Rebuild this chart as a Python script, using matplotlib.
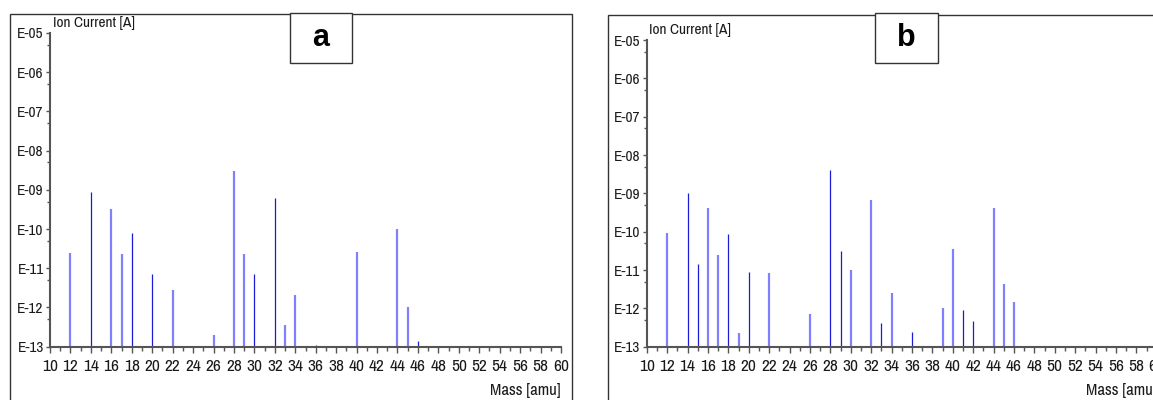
import matplotlib
matplotlib.use("Agg")
import matplotlib.pyplot as plt
import numpy as np
from matplotlib.patches import Rectangle
from matplotlib.ticker import FixedLocator, FuncFormatter, MultipleLocator
import matplotlib.transforms as mtransforms
from matplotlib import font_manager

# pick a narrow font if one is available
narrow_family = None
narrow_stretch = 'normal'
for f in font_manager.fontManager.ttflist:
    if 'Narrow' in f.name or 'Condensed' in f.name:
        narrow_family = f.name
        break
if narrow_family is None:
    narrow_family = 'DejaVu Sans'
    narrow_stretch = 'condensed'

plt.rcParams['font.family'] = [narrow_family, 'DejaVu Sans']
plt.rcParams['font.stretch'] = narrow_stretch
plt.rcParams['font.weight'] = 'bold'

# ---- data (log10 of ion current) ----
mass_a = [12, 14, 16, 17, 18, 20, 22, 26, 28, 29, 30, 32, 33, 34, 36, 40, 44, 45, 46]
logI_a = [-10.61, -9.05, -9.49, -10.64, -10.10, -11.15, -11.56, -12.71, -8.51, -10.64,
          -11.15, -9.22, -12.44, -11.69, -12.96, -10.58, -10.0, -12.0, -12.86]
tone_a = ['l', 'd', 'l', 'l', 'd', 'd', 'l', 'l', 'l', 'l', 'd', 'd', 'l', 'l', 'd', 'l', 'l', 'l', 'd']

mass_b = [12, 14, 15, 16, 17, 18, 19, 20, 22, 26, 28, 29, 30, 32, 33, 34, 36, 39, 40, 41, 42, 44, 45, 46]
logI_b = [-10.03, -9.0, -10.84, -9.38, -10.61, -10.06, -12.65, -11.05, -11.09, -12.14, -8.39,
          -10.50, -11.01, -9.17, -12.38, -11.60, -12.62, -12.0, -10.46, -12.04, -12.34, -9.38,
          -11.36, -11.83]
tone_b = ['l', 'd', 'd', 'l', 'l', 'd', 'l', 'd', 'l', 'l', 'd', 'd', 'l', 'l', 'd', 'l', 'd',
          'l', 'l', 'd', 'd', 'l', 'l', 'l']

y_ticks = [1e-13, 1e-12, 1e-11, 1e-10, 1e-9, 1e-8, 1e-7, 1e-6, 1e-5]
y_labels = ['E-13', 'E-12', 'E-11', 'E-10', 'E-09', 'E-08', 'E-07', 'E-06', 'E-05']
x_ticks = list(range(10, 61, 2))

W, H = 1153, 400
fig = plt.figure(figsize=(W / 100, H / 100), dpi=100)

LIGHT = '#8080ff'
DARK = '#1c1cd8'
AX_COL = '#555555'
TXT = '#1a1a1a'


def fx(px):
    return px / W


def fy(py):
    return 1 - py / H


def panel(left_px, right_px, top_px, bottom_px, mass, logI, tone):
    ax = fig.add_axes([fx(left_px), fy(bottom_px), fx(right_px - left_px), (bottom_px - top_px) / H])
    ax.set_yscale('log')
    ax.set_xlim(10, 60)
    ax.set_ylim(1e-13, 1e-5)
    for m, v, t in zip(mass, logI, tone):
        if t == 'l':
            ax.vlines(m, 1e-13, 10 ** v, color=LIGHT, lw=1.6, zorder=2)
        else:
            ax.vlines(m, 1e-13, 10 ** v, color=DARK, lw=0.9, zorder=2)
    for s in ['top', 'right']:
        ax.spines[s].set_visible(False)
    for s in ['left', 'bottom']:
        ax.spines[s].set_color(AX_COL)
        ax.spines[s].set_linewidth(1.5)
    ax.yaxis.set_major_locator(FixedLocator(y_ticks))
    ax.set_yticklabels(y_labels)
    ax.yaxis.set_minor_locator(FixedLocator([5 * t for t in y_ticks[:-1]]))
    ax.yaxis.set_minor_formatter(FuncFormatter(lambda v, p: ''))
    ax.xaxis.set_major_locator(FixedLocator(x_ticks))
    ax.set_xticklabels([str(t) for t in x_ticks])
    ax.xaxis.set_minor_locator(MultipleLocator(1))
    ax.tick_params(axis='y', which='major', length=3, width=1, color=AX_COL, pad=1.5,
                   labelsize=11, labelcolor=TXT)
    ax.tick_params(axis='y', which='minor', length=2, width=1, color=AX_COL)
    ax.tick_params(axis='x', which='major', length=4.5, width=1, color=AX_COL, pad=4.5,
                   labelsize=12.5, labelcolor=TXT)
    ax.tick_params(axis='x', which='minor', length=3, width=1, color=AX_COL)
    off = mtransforms.offset_copy(ax.transAxes, fig=fig, x=2, y=4, units='points')
    ax.text(0.0, 1.0, 'Ion Current [A]', transform=off, fontsize=11, ha='left',
            va='baseline', color=TXT)
    off2 = mtransforms.offset_copy(ax.transAxes, fig=fig, x=0, y=-35, units='points')
    ax.text(1.0, 0.0, 'Mass [amu]', transform=off2, fontsize=12, ha='right',
            va='baseline', color=TXT)
    return ax


panel(50, 561, 33, 346.7, mass_a, logI_a, tone_a)
panel(646.7, 1156.7, 40, 346.7, mass_b, logI_b, tone_b)

# outer frames
fig.patches.append(Rectangle((fx(10), -0.05), fx(572 - 10), fy(14) + 0.05, transform=fig.transFigure,
                             fill=False, ec='#333333', lw=1.0))
fig.patches.append(Rectangle((fx(608), -0.05), fx(1200 - 608), fy(15) + 0.05, transform=fig.transFigure,
                             fill=False, ec='#333333', lw=1.0))

# label boxes
for x0, x1, lab in [(290, 352, 'a'), (875, 938, 'b')]:
    fig.patches.append(Rectangle((fx(x0), fy(63)), fx(x1 - x0), 50 / H, transform=fig.transFigure,
                                 fc='white', ec='#333333', lw=1.0, zorder=5))
    fig.text(fx((x0 + x1) / 2), fy(38), lab, ha='center', va='center', fontsize=22,
             fontweight='bold', family=['Liberation Sans', 'DejaVu Sans'], stretch='normal', zorder=6)

fig.savefig('out.png', dpi=100)
